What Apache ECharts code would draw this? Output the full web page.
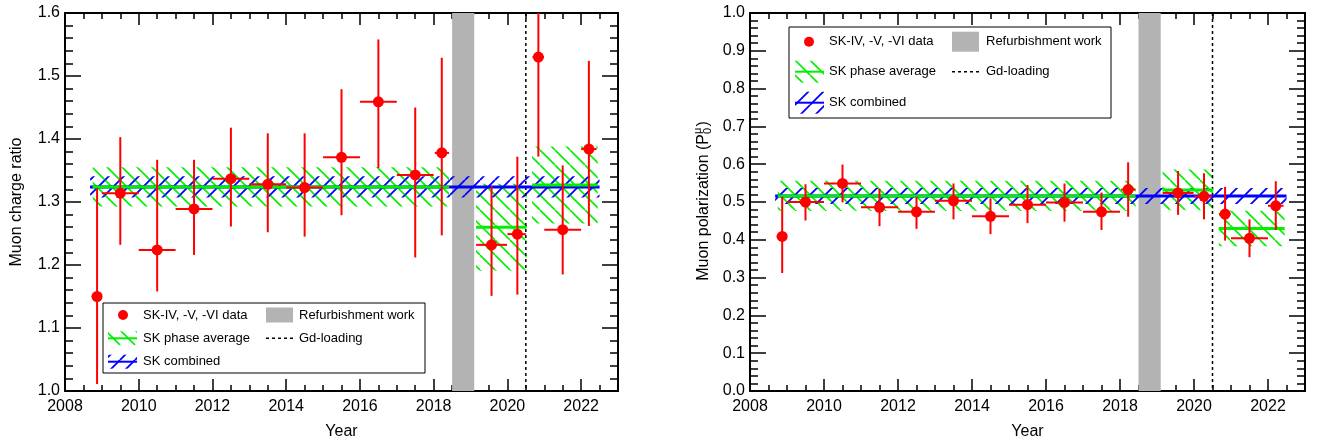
<!DOCTYPE html>
<html><head><meta charset="utf-8">
<script src="https://cdn.jsdelivr.net/npm/echarts@6/dist/echarts.min.js"></script>
<style>html,body{margin:0;padding:0;background:#fff}#c{width:1321px;height:445px}</style>
</head><body><div id="c"></div>
<script>
// ---------------- data ----------------
const xTicks = [2008, 2010, 2012, 2014, 2016, 2018, 2020, 2022];
const yearCenter = [2008.87, 2009.5, 2010.5, 2011.5, 2012.5, 2013.5, 2014.5, 2015.5, 2016.5, 2017.5, 2018.22, 2019.57, 2020.27, 2020.84, 2021.5, 2022.21];
const yearLow    = [2008.72, 2009.0, 2010.0, 2011.0, 2012.0, 2013.0, 2014.0, 2015.0, 2016.0, 2017.0, 2018.03, 2019.15, 2020.0, 2020.68, 2021.0, 2022.0];
const yearHigh   = [2009.0, 2010.0, 2011.0, 2012.0, 2013.0, 2014.0, 2015.0, 2016.0, 2017.0, 2018.0, 2018.42, 2019.99, 2020.5, 2020.99, 2022.0, 2022.42];

const ratio     = [1.150, 1.314, 1.224, 1.289, 1.337, 1.328, 1.323, 1.371, 1.459, 1.343, 1.378, 1.232, 1.249, 1.530, 1.256, 1.384];
const ratioLow  = [1.011, 1.232, 1.158, 1.216, 1.261, 1.252, 1.245, 1.279, 1.354, 1.212, 1.247, 1.151, 1.153, 1.372, 1.185, 1.262];
const ratioHigh = [1.322, 1.403, 1.367, 1.367, 1.418, 1.409, 1.409, 1.479, 1.558, 1.450, 1.529, 1.325, 1.372, 1.690, 1.358, 1.524];

const pol     = [0.409, 0.500, 0.549, 0.486, 0.474, 0.503, 0.462, 0.493, 0.499, 0.474, 0.533, 0.524, 0.515, 0.468, 0.404, 0.490];
const polLow  = [0.312, 0.451, 0.499, 0.436, 0.429, 0.454, 0.415, 0.444, 0.448, 0.426, 0.461, 0.466, 0.454, 0.398, 0.354, 0.426];
const polHigh = [0.514, 0.547, 0.599, 0.535, 0.514, 0.549, 0.510, 0.545, 0.549, 0.525, 0.605, 0.582, 0.576, 0.540, 0.454, 0.555];

const phaseStart = [2008.75, 2019.15, 2020.67];
const phaseEnd   = [2018.42, 2020.52, 2022.45];
const ratioPhase    = [1.324, 1.260, 1.327];
const ratioPhaseErr = [0.031, 0.069, 0.061];
const polPhase      = [0.516, 0.532, 0.430];
const polPhaseErr   = [0.040, 0.054, 0.047];

const combinedRange = [2008.68, 2022.5];
const ratioCombined = [1.324, 0.017];
const polCombined   = [0.516, 0.021];

const refurbishment = [2018.5, 2019.1];
const gdLoading = 2020.5;

// ---------------- styles ----------------
const FONT = '"Liberation Sans", Arial, Helvetica, sans-serif';
const RED = '#ff0000', GREEN = '#00f000', BLUE = '#0000ff', GRAY = '#b3b3b3';

function hatch(color, dir, size, lw) {
  const c = document.createElement('canvas');
  c.width = size; c.height = size;
  const ctx = c.getContext('2d');
  ctx.strokeStyle = color; ctx.lineWidth = lw;
  ctx.beginPath();
  for (const k of [-1, 0, 1]) {
    if (dir === 'back') { ctx.moveTo(0, k * size); ctx.lineTo(size, k * size + size); }
    else { ctx.moveTo(0, (k + 1) * size); ctx.lineTo(size, k * size); }
  }
  ctx.stroke();
  return c;
}
const greenPat = { image: hatch(GREEN, 'back', 15, 1.6), repeat: 'repeat' };
const bluePat = { image: hatch(BLUE, 'fwd', 15, 1.8), repeat: 'repeat' };

const chart = echarts.init(document.getElementById('c'), null, { renderer: 'canvas' });

const grids = [
  { left: 65, top: 13, width: 553, height: 379 },
  { left: 750, top: 13, width: 555, height: 379 }
];

function xAx(g, pos, withLabel) {
  return {
    type: 'value', gridIndex: g, position: pos, min: 2008, max: 2023, interval: 2,
    axisLine: { show: true, onZero: false, lineStyle: { color: '#000', width: 2 } },
    axisTick: { show: true, inside: true, length: 12, lineStyle: { color: '#000', width: 1.5 } },
    minorTick: { show: true, splitNumber: 4, length: 6, lineStyle: { color: '#000', width: 1.5 } },
    splitLine: { show: false },
    axisLabel: { show: withLabel, fontSize: 16, color: '#000', fontFamily: FONT, margin: 8,
      formatter: v => (xTicks.indexOf(v) >= 0 ? String(v) : '') },
    name: withLabel ? 'Year' : '', nameLocation: 'middle', nameGap: 33,
    nameTextStyle: { fontSize: 16, color: '#000', fontFamily: FONT }
  };
}
function yAx(g, pos, withLabel, min, max, name) {
  return {
    type: 'value', gridIndex: g, position: pos, min: min, max: max, interval: 0.1,
    axisLine: { show: true, onZero: false, lineStyle: { color: '#000', width: 2 } },
    axisTick: { show: true, inside: true, length: 16, lineStyle: { color: '#000', width: 1.5 } },
    minorTick: { show: true, splitNumber: 5, length: 8, lineStyle: { color: '#000', width: 1.5 } },
    splitLine: { show: false },
    axisLabel: { show: withLabel, fontSize: 16, color: '#000', fontFamily: FONT, margin: 5,
      formatter: v => v.toFixed(1) },
    name: withLabel ? name : '', nameLocation: 'middle', nameGap: 40,
    nameTextStyle: { fontSize: 16, color: '#000', fontFamily: FONT }
  };
}

function seriesFor(g, vals, lows, highs, phaseVals, phaseErrs, comb, yMin, yMax) {
  const xi = g * 2, yi = g * 2;
  const base = { type: 'custom', xAxisIndex: xi, yAxisIndex: yi, silent: true, animation: false };
  const phaseData = phaseStart.map((s, i) => [s, phaseEnd[i], phaseVals[i], phaseErrs[i]]);
  const combData = [[combinedRange[0], combinedRange[1], comb[0], comb[1]]];
  const pointData = yearCenter.map((x, i) => [x, vals[i], yearLow[i], yearHigh[i], lows[i], highs[i]]);
  const band = pat => (p, api) => {
    const a = api.coord([api.value(0), api.value(2) + api.value(3)]);
    const b = api.coord([api.value(1), api.value(2) - api.value(3)]);
    return { type: 'rect', shape: { x: a[0], y: a[1], width: b[0] - a[0], height: b[1] - a[1] }, style: { fill: pat } };
  };
  const cline = col => (p, api) => {
    const a = api.coord([api.value(0), api.value(2)]);
    const b = api.coord([api.value(1), api.value(2)]);
    return { type: 'line', shape: { x1: a[0], y1: a[1], x2: b[0], y2: b[1] }, style: { stroke: col, lineWidth: 3 } };
  };
  return [
    Object.assign({}, base, { z: 1, data: [refurbishment], renderItem: (p, api) => {
      const a = api.coord([api.value(0), yMax]), b = api.coord([api.value(1), yMin]);
      return { type: 'rect', shape: { x: a[0], y: a[1], width: b[0] - a[0], height: b[1] - a[1] }, style: { fill: GRAY } };
    } }),
    Object.assign({}, base, { z: 2, data: phaseData, renderItem: band(greenPat) }),
    Object.assign({}, base, { z: 3, data: combData, renderItem: band(bluePat) }),
    Object.assign({}, base, { z: 4, data: [[gdLoading]], renderItem: (p, api) => {
      const a = api.coord([api.value(0), yMax]), b = api.coord([api.value(0), yMin]);
      return { type: 'line', shape: { x1: a[0], y1: a[1], x2: b[0], y2: b[1] }, style: { stroke: '#000', lineWidth: 1.5, lineDash: [3, 3] } };
    } }),
    Object.assign({}, base, { z: 5, data: combData, renderItem: cline(BLUE) }),
    Object.assign({}, base, { z: 6, data: phaseData, renderItem: cline(GREEN) }),
    Object.assign({}, base, { z: 7, clip: true, data: pointData, renderItem: (p, api) => {
      const x = api.value(0), y = api.value(1);
      const c = api.coord([x, y]);
      const l = api.coord([api.value(2), y]), h = api.coord([api.value(3), y]);
      const lo = api.coord([x, Math.max(api.value(4), yMin)]), hi = api.coord([x, Math.min(api.value(5), yMax)]);
      return { type: 'group', children: [
        { type: 'line', shape: { x1: l[0], y1: c[1], x2: h[0], y2: c[1] }, style: { stroke: RED, lineWidth: 2 } },
        { type: 'line', shape: { x1: c[0], y1: lo[1], x2: c[0], y2: hi[1] }, style: { stroke: RED, lineWidth: 2 } },
        { type: 'circle', shape: { cx: c[0], cy: c[1], r: 5.5 }, style: { fill: RED } }
      ] };
    } })
  ];
}

function legend(L) {
  const els = [];
  els.push({ type: 'rect', shape: { x: L.bx, y: L.by, width: L.bw, height: L.bh }, style: { fill: '#fff', stroke: '#000', lineWidth: 1 } });
  const tstyle = (t, x, y) => ({ type: 'text', x: x, y: y, style: { text: t, font: '13px ' + FONT, fill: '#000', textVerticalAlign: 'middle', verticalAlign: 'middle' } });
  // row 1
  els.push({ type: 'circle', shape: { cx: L.dotX, cy: L.rows[0], r: L.dotR }, style: { fill: RED } });
  els.push(tstyle('SK-IV, -V, -VI data', L.textX, L.rows[0]));
  els.push({ type: 'rect', shape: { x: L.c2[0], y: L.rows[0] - L.grayH / 2, width: L.c2[1] - L.c2[0], height: L.grayH }, style: { fill: GRAY } });
  els.push(tstyle('Refurbishment work', L.text2X, L.rows[0]));
  // row 2
  els.push({ type: 'rect', shape: { x: L.icon[0], y: L.rows[1] - L.iconH / 2, width: L.icon[1] - L.icon[0], height: L.iconH }, style: { fill: greenPat } });
  els.push({ type: 'line', shape: { x1: L.icon[0], y1: L.rows[1], x2: L.icon[1], y2: L.rows[1] }, style: { stroke: GREEN, lineWidth: 2 } });
  els.push(tstyle('SK phase average', L.textX, L.rows[1]));
  els.push({ type: 'line', shape: { x1: L.c2[0], y1: L.rows[1], x2: L.c2[1], y2: L.rows[1] }, style: { stroke: '#000', lineWidth: 1.5, lineDash: [3, 3] } });
  els.push(tstyle('Gd-loading', L.text2X, L.rows[1]));
  // row 3
  els.push({ type: 'rect', shape: { x: L.icon[0], y: L.rows[2] - L.iconH / 2, width: L.icon[1] - L.icon[0], height: L.iconH }, style: { fill: bluePat } });
  els.push({ type: 'line', shape: { x1: L.icon[0], y1: L.rows[2], x2: L.icon[1], y2: L.rows[2] }, style: { stroke: BLUE, lineWidth: 2 } });
  els.push(tstyle('SK combined', L.textX, L.rows[2]));
  return { type: 'group', z: 100, children: els };
}

// right y-axis title with P_0^mu
function measure(t, f) {
  const ctx = document.createElement('canvas').getContext('2d');
  ctx.font = f; return ctx.measureText(t).width;
}
const mainT = 'Muon polarization (P';
const fMain = '16px ' + FONT, fSmall = '11px ' + FONT;
const w1 = measure(mainT, fMain), w0 = measure('0', fSmall), wm = measure('μ', fSmall), wp = measure(')', fMain);
const total = w1 + Math.max(w0, wm) + 1 + wp;
const s0 = -total / 2;
const titleGroup = {
  type: 'group', x: 704, y: 201, rotation: Math.PI / 2, z: 100,
  children: [
    { type: 'text', x: s0, y: 0, style: { text: mainT, font: fMain, fill: '#000', textVerticalAlign: 'middle', verticalAlign: 'middle' } },
    { type: 'text', x: s0 + w1, y: 4, style: { text: '0', font: fSmall, fill: '#000', textVerticalAlign: 'middle', verticalAlign: 'middle' } },
    { type: 'text', x: s0 + w1, y: -6, style: { text: 'μ', font: fSmall, fill: '#000', textVerticalAlign: 'middle', verticalAlign: 'middle' } },
    { type: 'text', x: s0 + w1 + Math.max(w0, wm) + 1, y: 0, style: { text: ')', font: fMain, fill: '#000', textVerticalAlign: 'middle', verticalAlign: 'middle' } }
  ]
};

const option = {
  animation: false,
  backgroundColor: '#fff',
  textStyle: { fontFamily: FONT },
  grid: grids,
  xAxis: [xAx(0, 'bottom', true), xAx(0, 'top', false), xAx(1, 'bottom', true), xAx(1, 'top', false)],
  yAxis: [yAx(0, 'left', true, 1.0, 1.6, 'Muon charge ratio'), yAx(0, 'right', false, 1.0, 1.6, ''),
          yAx(1, 'left', true, 0, 1.0, ''), yAx(1, 'right', false, 0, 1.0, '')],
  series: [].concat(
    seriesFor(0, ratio, ratioLow, ratioHigh, ratioPhase, ratioPhaseErr, ratioCombined, 1.0, 1.6),
    seriesFor(1, pol, polLow, polHigh, polPhase, polPhaseErr, polCombined, 0, 1.0)
  ),
  graphic: { elements: [
    legend({ bx: 103, by: 303, bw: 322, bh: 70, rows: [315, 338.3, 361.7], icon: [108, 137], iconH: 14,
             dotX: 123, dotR: 5, textX: 143, c2: [266, 293], grayH: 15, text2X: 299 }),
    legend({ bx: 789, by: 27, bw: 322, bh: 91, rows: [41.7, 71.7, 102.7], icon: [795, 824], iconH: 22,
             dotX: 809, dotR: 5, textX: 829, c2: [952, 979], grayH: 20, text2X: 986 }),
    titleGroup
  ] }
};
chart.setOption(option);
</script></body></html>
